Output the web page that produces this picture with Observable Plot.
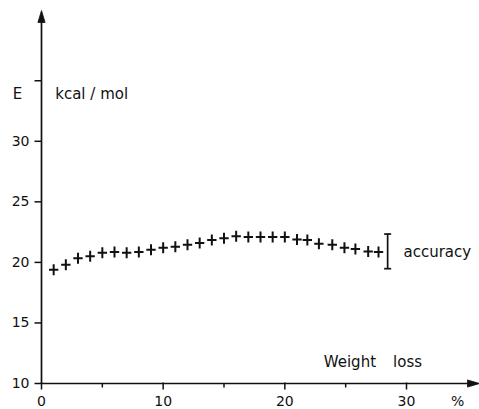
<!DOCTYPE html>
<html>
<head>
<meta charset="utf-8">
<script src="https://cdn.jsdelivr.net/npm/d3@7"></script>
<script src="https://cdn.jsdelivr.net/npm/@observablehq/plot@0.6"></script>
<style>
  body { margin: 0; background: #fff; }
  svg { display: block; }
</style>
</head>
<body>
<div id="chart"></div>
<script>
// Measured energy E (kcal/mol) against weight loss (%)
const weightLoss = [1, 2, 3, 4, 5, 6, 7, 8, 9, 10, 11, 12, 13, 14, 15, 16, 17, 18, 19, 20,
                    21, 21.85, 22.8, 23.9, 24.9, 25.8, 26.85, 27.7];
const energy = [19.4, 19.8, 20.35, 20.5, 20.8, 20.85, 20.8, 20.85, 21.05, 21.2, 21.3, 21.45,
                21.6, 21.85, 22.0, 22.15, 22.1, 22.1, 22.1, 22.1, 21.9, 21.85, 21.55, 21.45,
                21.2, 21.1, 20.9, 20.85];

// Accuracy bar
const accuracyLow = 19.48;
const accuracyHigh = 22.34;

// Axis ticks
const yTicks = [10, 15, 20, 25, 30, 35];
const yTickLabels = ["10", "15", "20", "25", "30", ""];
const xTicks = [0, 10, 20, 30];
const xTickLabels = ["0", "10", "20", "30"];
const xMinorTicks = [5, 15, 25];

const points = weightLoss.map((w, i) => ({w, e: energy[i]}));

const ink = "#111";

// Custom symbols (origin = anchor point)
const cross = {
  draw(ctx, size) {
    const r = Math.sqrt(size / Math.PI);
    ctx.moveTo(-r * 0.85, 0); ctx.lineTo(r * 0.85, 0);
    ctx.moveTo(0, -r); ctx.lineTo(0, r);
  }
};
const arrowUp = {draw(ctx) { ctx.moveTo(0, 0); ctx.lineTo(3.6, 12); ctx.lineTo(-3.6, 12); ctx.closePath(); }};
const arrowRight = {draw(ctx) { ctx.moveTo(0, 0); ctx.lineTo(-12, -3.6); ctx.lineTo(-12, 3.6); ctx.closePath(); }};
const yTickMark = {draw(ctx) { ctx.moveTo(-7, 0); ctx.lineTo(0, 0); }};
const xTickMark = {draw(ctx) { ctx.moveTo(0, -1); ctx.lineTo(0, 6); }};
const xMinorMark = {draw(ctx) { ctx.moveTo(0, 0); ctx.lineTo(0, 4); }};
const capMark = {draw(ctx) { ctx.moveTo(-3.5, 0); ctx.lineTo(3.5, 0); }};

const font = {fontFamily: "DejaVu Sans", fill: ink};

const chart = Plot.plot({
  width: 479,
  height: 409,
  marginLeft: 41,
  marginRight: 0,
  marginTop: 10,
  marginBottom: 26,
  x: {domain: [0, 36], axis: null},
  y: {domain: [10, 40.8], axis: null},
  style: {background: "#fff", color: ink, overflow: "visible"},
  marks: [
    // axes with arrowheads
    Plot.ruleY([10], {x1: 0, x2: 35.3, stroke: ink, strokeWidth: 1.7}),
    Plot.ruleX([0], {y1: 10, y2: 40, stroke: ink, strokeWidth: 1.7}),
    Plot.dot([0], {x: 36, y: 10, symbol: arrowRight, fill: ink, stroke: ink, strokeWidth: 0.8}),
    Plot.dot([0], {x: 0, y: 40.8, symbol: arrowUp, fill: ink, stroke: ink, strokeWidth: 0.8}),
    // ticks
    Plot.dot(yTicks, {x: 0, y: d => d, symbol: yTickMark, fill: "none", stroke: ink, strokeWidth: 1.5}),
    Plot.dot(xTicks, {x: d => d, y: 10, symbol: xTickMark, fill: "none", stroke: ink, strokeWidth: 1.5}),
    Plot.dot(xMinorTicks, {x: d => d, y: 10, symbol: xMinorMark, fill: "none", stroke: ink, strokeWidth: 1.5}),
    Plot.text(yTicks, {x: 0, y: d => d, text: (d, i) => yTickLabels[i], dx: -12, textAnchor: "end", fontSize: 14, ...font}),
    Plot.text(xTicks, {x: d => d, y: 10, text: (d, i) => xTickLabels[i], dy: 18, fontSize: 14, ...font}),
    Plot.text(["%"], {x: 34.2, y: 10, dy: 18, fontSize: 14, ...font}),
    // axis titles
    Plot.text(["E"], {x: 0, y: 33.85, dx: -24, fontSize: 15, ...font}),
    Plot.text(["kcal / mol"], {x: 1.13, y: 33.85, textAnchor: "start", fontSize: 15, ...font}),
    Plot.text(["Weight"], {x: 23.2, y: 11.8, textAnchor: "start", fontSize: 15, ...font}),
    Plot.text(["loss"], {x: 28.9, y: 11.8, textAnchor: "start", fontSize: 15, ...font}),
    // measurements
    Plot.dot(points, {x: "w", y: "e", symbol: cross, r: 5.5, fill: "none", stroke: ink, strokeWidth: 2}),
    // accuracy bar
    Plot.ruleX([28.45], {y1: accuracyLow, y2: accuracyHigh, stroke: ink, strokeWidth: 1.7}),
    Plot.dot([accuracyLow, accuracyHigh], {x: 28.45, y: d => d, symbol: capMark, fill: "none", stroke: ink, strokeWidth: 1.7}),
    Plot.text(["accuracy"], {x: 29.75, y: 20.88, textAnchor: "start", fontSize: 15, ...font})
  ]
});

document.getElementById("chart").append(chart);
</script>
</body>
</html>
